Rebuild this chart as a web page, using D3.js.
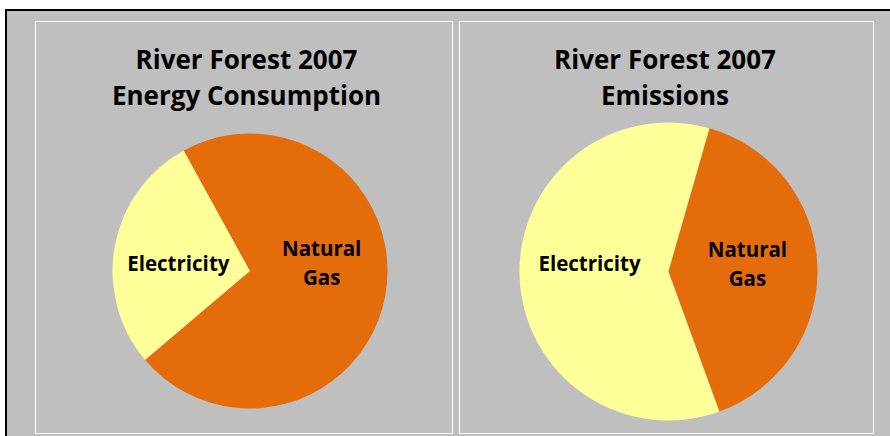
<!DOCTYPE html>
<html>
<head>
<meta charset="utf-8">
<script src="https://cdn.jsdelivr.net/npm/d3@7"></script>
<style>
  body { margin: 0; background: #fff; }
  svg { display: block; }
  text { font-family: "Open Sans", Lato, sans-serif; font-weight: bold; fill: #000; }
</style>
</head>
<body>
<div id="container"></div>
<script>
	var WIDTH = 890;
	var HEIGHT = 436;

	// data (share in percent)
	var categories = ["Electricity", "Natural Gas"];
	var energyValues = [28.2, 71.8];
	var emissionValues = [60, 40];
	var titles = [
		["River Forest 2007", "Energy Consumption"],
		["River Forest 2007", "Emissions"]
	];

	var colors = d3.scaleOrdinal()
		.domain(categories)
		.range(["#ffff99", "#e46c0a"]);

	var svg = d3.select('#container')
		.append('svg')
		.attr('width', WIDTH)
		.attr('height', HEIGHT);

	// outer chart area, runs off the right and bottom
	svg.append('rect')
		.attr('x', 6).attr('y', 10)
		.attr('width', WIDTH + 20).attr('height', HEIGHT + 20)
		.style('fill', '#bfbfbf')
		.style('stroke', '#000')
		.style('stroke-width', 2);

	var charts = [
		{values: energyValues, title: titles[0], x: 35, w: 417, cx: 250, cy: 271, r: 137.5, start: 229.7},
		{values: emissionValues, title: titles[1], x: 459, w: 414, cx: 668.5, cy: 271.5, r: 149, start: 160}
	];

	charts.forEach(function(c){
		var g = svg.append('g');

		g.append('rect')
			.attr('x', c.x + 0.5).attr('y', 21.5)
			.attr('width', c.w).attr('height', 412)
			.style('fill', 'none')
			.style('stroke', '#fff')
			.style('stroke-width', 1);

		g.selectAll('text.title')
			.data(c.title)
			.enter().append('text')
			.attr('class', 'title')
			.attr('x', c.cx - 3.5)
			.attr('y', function(d,i){ return 69 + i*35.5; })
			.attr('text-anchor', 'middle')
			.style('font-size', '26px')
			.text(function(d){ return d; });

		var start = c.start * Math.PI / 180;
		var pie = d3.pie().sort(null)
			.startAngle(start)
			.endAngle(start + 2 * Math.PI);
		var slices = pie(c.values);

		var arc = d3.arc().innerRadius(0).outerRadius(c.r);
		var labelArc = d3.arc().innerRadius(c.r * 0.53).outerRadius(c.r * 0.53);

		var pg = g.append('g').attr('transform', 'translate(' + c.cx + ',' + c.cy + ')');
		pg.selectAll('path')
			.data(slices)
			.enter().append('path')
			.attr('d', arc)
			.style('fill', function(d,i){ return colors(categories[i]); });

		// labels sit level with the centre, pushed out along x like Excel's best fit
		pg.selectAll('text')
			.data(slices)
			.enter().append('text')
			.attr('text-anchor', 'middle')
			.style('font-size', '20.5px')
			.attr('transform', function(d){
				var p = labelArc.centroid(d);
				return 'translate(' + p[0] + ',-8)';
			})
			.each(function(d,i){
				var words = categories[i] == "Natural Gas" ? ["Natural", "Gas"] : [categories[i]];
				var t = d3.select(this);
				words.forEach(function(w,k){
					t.append('tspan')
						.attr('x', 0)
						.attr('y', (k - (words.length - 1) / 2) * 29 + 7.5)
						.text(w);
				});
			});
	});
</script>
</body>
</html>
